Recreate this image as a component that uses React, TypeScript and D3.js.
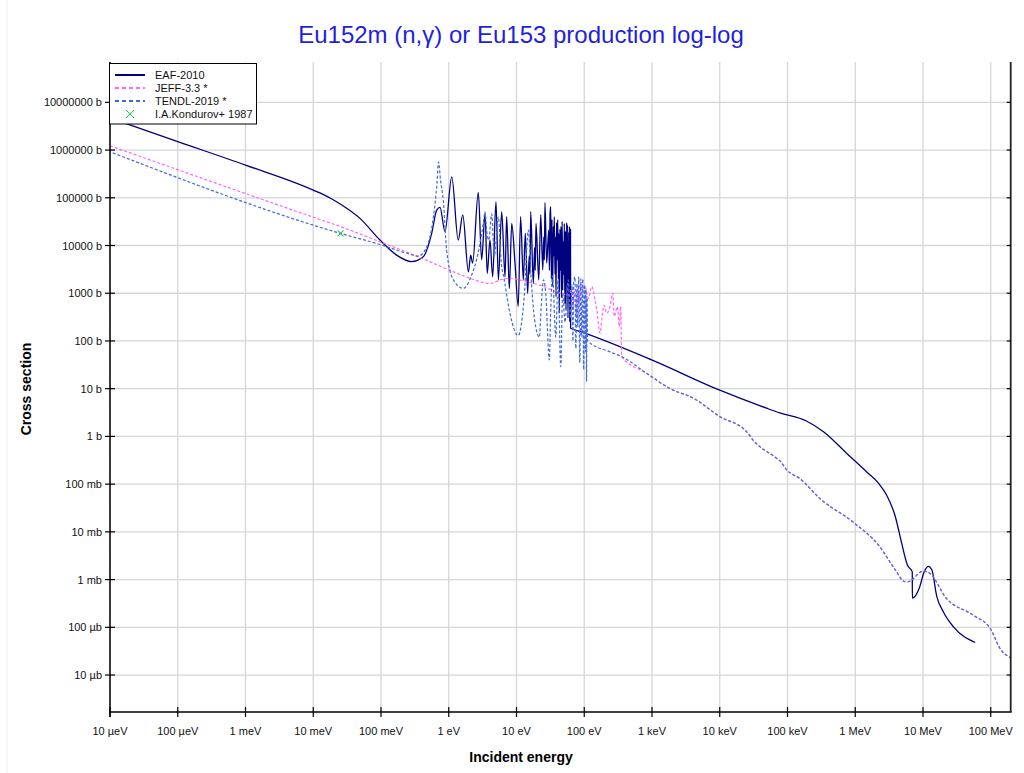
import React from 'react';
import * as d3 from 'd3';

// ---------- data (energy in eV, cross section in barns) ----------
const xTickValues = [1e-5, 1e-4, 1e-3, 1e-2, 1e-1, 1, 10, 100, 1e3, 1e4, 1e5, 1e6, 1e7, 1e8];
const xTickLabels = ['10 µeV', '100 µeV', '1 meV', '10 meV', '100 meV', '1 eV', '10 eV', '100 eV', '1 keV', '10 keV', '100 keV', '1 MeV', '10 MeV', '100 MeV'];
const yTickValues = [1e-5, 1e-4, 1e-3, 1e-2, 1e-1, 1, 10, 100, 1e3, 1e4, 1e5, 1e6, 1e7];
const yTickLabels = ['10 µb', '100 µb', '1 mb', '10 mb', '100 mb', '1 b', '10 b', '100 b', '1000 b', '10000 b', '100000 b', '1000000 b', '10000000 b'];

const eaf2010: [number, number][] = [
  [1e-5, 4.7e6], [1e-4, 1.5e6], [1e-3, 4.85e5], [1e-2, 1.45e5], [0.0177, 9.9e4], [0.025, 7.4e4],
  [0.049, 3.7e4], [0.0966, 1.3e4], [0.17, 6.3e3], [0.284, 4.6e3], [0.42, 5.8e3], [0.56, 1.8e4],
  [0.664, 5.5e4], [0.743, 6.3e4], [0.88, 1.95e4], [1.107, 2.75e5], [1.38, 1.3e4], [1.61, 4.4e4],
  [1.95, 2.8e3], [2.11, 6.3e3], [2.25, 4.3e3], [2.73, 1.3e5], [3.06, 5e3], [3.43, 4.7e4], [3.7, 2.6e3],
  [4.06, 1.3e4], [4.45, 2.2e3], [4.98, 8.3e4], [5.4, 1.9e3], [6.05, 5.1e4], [6.77, 2.2e3], [7.16, 4e4],
  [7.84, 1.25e3], [8.5, 2.9e4], [9.5, 4.3e3], [10.6, 5.3e2], [11.5, 4e4], [12.6, 1.9e3], [13.5, 1.8e4],
  [14.6, 1e3], [15.4, 6e3], [15.8, 2.5e3], [16.2, 5.1e4], [17.7, 1.6e3], [18.5, 9e3], [18.9, 3e3],
  [19.4, 2.9e4], [21.3, 1.9e3], [22.8, 4.4e4], [24.4, 3.1e3], [25.3, 1.5e4], [25.8, 5e3],
  [26.3, 7.9e4], [27.9, 4.3e3], [29.9, 2.1e4], [30.6, 3e3], [31.3, 4.5e4], [32, 6.5e4], [32.7, 2e3],
  [33.4, 3.5e4], [34.2, 1.4e3], [35, 2.5e4], [35.5, 6e3], [36.1, 4e4], [37, 2.5e3], [37.6, 1.5e4],
  [38.3, 8.5e2], [39, 3e4], [39.8, 5e3], [40.6, 3.5e4], [41.5, 2e3], [42.2, 1.8e4], [42.9, 3.8e2],
  [43.7, 2.2e4], [44.5, 3e3], [45.4, 2.5e4], [46.3, 8e2], [47.2, 3.2e4], [48.1, 1.15e3], [49, 1.2e4],
  [49.9, 2.5e3], [50.8, 2.9e4], [51.8, 6e2], [52.8, 2e4], [53.8, 4.5e2], [55, 3e4], [55.6, 1.5e3],
  [56.3, 2.7e4], [57.5, 3e2], [58.9, 1.9e4], [59.6, 2e3], [60.4, 2.5e4], [61, 2.5e2], [61.7, 2.1e4],
  [62.3, 1.5e3], [62.7, 2.2e4], [63, 1.84e2],
  [86.5, 158], [988, 40], [1e4, 9.3], [4.9e4, 3.9], [7.7e4, 3.1], [1.9e5, 2.1], [3.4e5, 1.25],
  [7.5e5, 0.44], [1.48e6, 0.18], [2.2e6, 0.105], [2.9e6, 0.059], [3.9e6, 0.021], [4.84e6, 5.8e-3],
  [5.9e6, 2e-3], [6.95e6, 1.45e-3], [6.96e6, 4.1e-4], [8.8e6, 6.6e-4], [1.04e7, 1.45e-3], [1.2e7, 1.9e-3],
  [1.35e7, 1.6e-3], [1.6e7, 4.4e-4], [2e7, 2.1e-4], [2.8e7, 1.03e-4], [5.9e7, 4.8e-5],
];

// shared smooth part of JEFF-3.3 and TENDL-2019 above the resonance region
const jeffTendlTail: [number, number][] = [
  [357, 47], [832, 21], [1.85e3, 10], [4.1e3, 6.3], [1e4, 2.6], [2.5e4, 1.25], [3.1e4, 0.84],
  [6.9e4, 0.35], [7.7e4, 0.31], [9.8e4, 0.197], [1.53e5, 0.13], [3e5, 0.05], [9.3e5, 0.016],
  [2.3e6, 4.9e-3], [3.9e6, 1.6e-3], [5.4e6, 9e-4], [6e6, 9e-4], [1e7, 1.5e-3], [1.26e7, 1.35e-3],
  [2.2e7, 4.1e-4], [5.5e7, 1.8e-4], [1e8, 9.1e-5], [1.37e8, 3.6e-5], [1.97e8, 2.3e-5],
];

const jeff33: [number, number][] = [
  [1e-5, 1.23e6], [0.0126, 3.5e4], [0.025, 2.5e4], [0.0966, 1.2e4], [0.336, 6e3], [1, 3.1e3],
  [2.06, 2.05e3], [4.06, 1.6e3], [5.7, 1.9e3], [8, 2.05e3], [14, 1.75e3], [24.8, 1.4e3], [39, 1.07e3],
  [61.7, 910], [65, 1.3e3], [68, 500], [72, 1.1e3], [76, 350], [80, 1.2e3], [84, 600], [88, 1.5e3],
  [91, 1.17e3], [102.5, 1.38e3], [115, 780], [129, 1.38e3], [144, 740], [153, 450], [171, 145],
  [181, 275], [196, 560], [214, 380], [240, 525], [263, 1e3], [277, 325], [308, 525], [329, 200],
  [345, 525],
];

const tendl2019: [number, number][] = [
  [1e-5, 9.2e5], [0.025, 1.8e4], [0.0966, 1.05e4], [0.24, 6.9e3], [0.355, 6e3], [0.473, 9.4e3],
  [0.594, 4e4], [0.67, 2e5], [0.705, 5.6e5], [0.76, 2.2e5], [0.83, 8.9e4], [0.93, 8e3], [1.17, 1.9e3],
  [1.64, 1.26e3], [2.2, 2.5e3], [2.57, 5e3], [3.0, 1.5e4], [3.24, 2.9e4], [3.43, 5.1e4], [3.63, 2e4],
  [3.9, 1.3e4], [4.3, 4.6e4], [4.7, 6e3], [5.4, 4e4], [5.9, 5e3], [6.6, 1.9e3], [8, 3.8e2], [10.6, 1.3e2],
  [13, 8.5e2], [15, 2.1e4], [16.5, 1.9e3], [18.5, 2.8e2], [21.8, 1.2e2], [23, 4.5e2], [25, 1.9e3],
  [27, 1e3], [30.5, 40], [32, 4.5e2], [34, 2.3e3], [38, 1.2e2], [41, 1.9e3], [45, 29], [48, 1e3],
  [52, 2.5e2], [58, 1.9e3], [63, 3e2], [66, 1.5e3], [68, 1e2], [70, 1.8e3], [73, 2.2e3], [75, 70],
  [78, 1.6e3], [80, 2e2], [83, 2.2e3], [86, 35], [89, 2e3], [92, 1.2e2], [95, 2e3], [98, 25],
  [101, 1.5e3], [104, 60], [106, 1.2e3], [108, 14], [110, 8e2], [112, 100], [240, 59],
];

const kondurov1987: [number, number][] = [[0.0253, 1.8e4]];

const seriesNames = ['EAF-2010', 'JEFF-3.3 *', 'TENDL-2019 *', 'I.A.Kondurov+ 1987'];

// ---------- layout ----------
const W = 1024;
const H = 773;
const left = 110;
const right = 1010.7;
const top = 62;
const bottom = 712;
const FONT = '"Liberation Sans", Arial, Helvetica, sans-serif';

const COL_EAF = '#000080';
const COL_JEFF = '#ff66ff';
const COL_TENDL = '#4169e1';
const COL_EXP = '#22cc55';

export default function App() {
  const x = d3.scaleLog().domain([1e-5, 1.97e8]).range([left, right]);
  const y = d3.scaleLog().domain([1.68e-6, 7.0e7]).range([bottom, top]);
  const line = d3
    .line<[number, number]>()
    .x((d) => x(d[0]))
    .y((d) => y(d[1]))
    .curve(d3.curveMonotoneX);

  const jeffFull = [...jeff33, ...jeffTendlTail];
  const tendlFull = [...tendl2019, ...jeffTendlTail];

  const legendRows = [0, 1, 2, 3].map((i) => 75 + i * 13);

  return (
    <svg
      width={W}
      height={H}
      style={{ position: 'absolute', left: 0, top: 0, background: '#fff' }}
      fontFamily={FONT}
    >
      <rect x={0} y={0} width={W} height={H} fill="#fff" />
      <line x1={7} x2={7} y1={0} y2={H} stroke="#eeeeee" strokeWidth={1} />
      <defs>
        <clipPath id="plotClip">
          <rect x={left} y={top} width={right - left} height={bottom - top} />
        </clipPath>
      </defs>

      {/* title */}
      <text x={521} y={43} textAnchor="middle" fontSize={24} fill="#1f1fdd">
        Eu152m (n,γ) or Eu153 production log-log
      </text>

      {/* grid */}
      {xTickValues.map((v) => (
        <line key={'gx' + v} x1={x(v)} x2={x(v)} y1={top} y2={bottom} stroke="#d6d6d6" strokeWidth={1.3} />
      ))}
      {yTickValues.map((v) => (
        <line key={'gy' + v} x1={left} x2={right} y1={y(v)} y2={y(v)} stroke="#d6d6d6" strokeWidth={1.3} />
      ))}

      {/* curves */}
      <g clipPath="url(#plotClip)" fill="none">
        <path d={line(eaf2010) || ''} stroke={COL_EAF} strokeWidth={1.3} strokeLinejoin="round" />
        <path d={line(jeffFull) || ''} stroke={COL_JEFF} strokeWidth={1.2} strokeDasharray="3,2" />
        <path d={line(tendlFull) || ''} stroke={COL_TENDL} strokeWidth={1.2} strokeDasharray="3,2" strokeDashoffset={2} />
        {kondurov1987.map((d, i) => {
          const cx = x(d[0]);
          const cy = y(d[1]);
          return (
            <g key={i} stroke={COL_EXP} strokeWidth={1.1}>
              <line x1={cx - 3} x2={cx + 3} y1={cy - 3} y2={cy + 3} />
              <line x1={cx - 3} x2={cx + 3} y1={cy + 3} y2={cy - 3} />
            </g>
          );
        })}
      </g>

      {/* axes */}
      <line x1={left} x2={left} y1={top} y2={bottom + 5} stroke="#000" strokeWidth={1.5} />
      <line x1={left - 1} x2={right + 1} y1={bottom} y2={bottom} stroke="#000" strokeWidth={1.5} />
      <line x1={right} x2={right} y1={top} y2={bottom} stroke="#222" strokeWidth={1.8} />
      {xTickValues.map((v, i) => (
        <g key={'tx' + v}>
          <line x1={x(v)} x2={x(v)} y1={bottom - 5} y2={bottom + 5} stroke="#000" strokeWidth={1.2} />
          <text x={x(v)} y={735} textAnchor="middle" fontSize={11} fill="#111">
            {xTickLabels[i]}
          </text>
        </g>
      ))}
      {yTickValues.map((v, i) => (
        <g key={'ty' + v}>
          <line x1={left - 5} x2={left + 5} y1={y(v)} y2={y(v)} stroke="#000" strokeWidth={1.2} />
          <line x1={right - 4} x2={right} y1={y(v)} y2={y(v)} stroke="#000" strokeWidth={1.2} />
          <text x={102} y={y(v) + 4} textAnchor="end" fontSize={11} fill="#111">
            {yTickLabels[i]}
          </text>
        </g>
      ))}

      {/* axis titles */}
      <text x={521} y={762} textAnchor="middle" fontSize={14} fontWeight="bold" fill="#000">
        Incident energy
      </text>
      <text
        transform={`translate(31,389) rotate(-90)`}
        textAnchor="middle"
        fontSize={14}
        fontWeight="bold"
        fill="#000"
      >
        Cross section
      </text>

      {/* legend */}
      <rect x={109.5} y={63.5} width={147} height={60.5} fill="#fff" stroke="#000" strokeWidth={1} />
      <line x1={115} x2={145} y1={legendRows[0]} y2={legendRows[0]} stroke={COL_EAF} strokeWidth={2} />
      <line x1={115} x2={145} y1={legendRows[1]} y2={legendRows[1]} stroke={COL_JEFF} strokeWidth={2} strokeDasharray="4,3" />
      <line x1={115} x2={145} y1={legendRows[2]} y2={legendRows[2]} stroke={COL_TENDL} strokeWidth={2} strokeDasharray="4,3" />
      <g stroke={COL_EXP} strokeWidth={1}>
        <line x1={126} x2={134} y1={legendRows[3] - 4} y2={legendRows[3] + 4} />
        <line x1={126} x2={134} y1={legendRows[3] + 4} y2={legendRows[3] - 4} />
      </g>
      {seriesNames.map((n, i) => (
        <text key={n} x={155} y={legendRows[i] + 4} fontSize={11} fill="#111">
          {n}
        </text>
      ))}
    </svg>
  );
}
